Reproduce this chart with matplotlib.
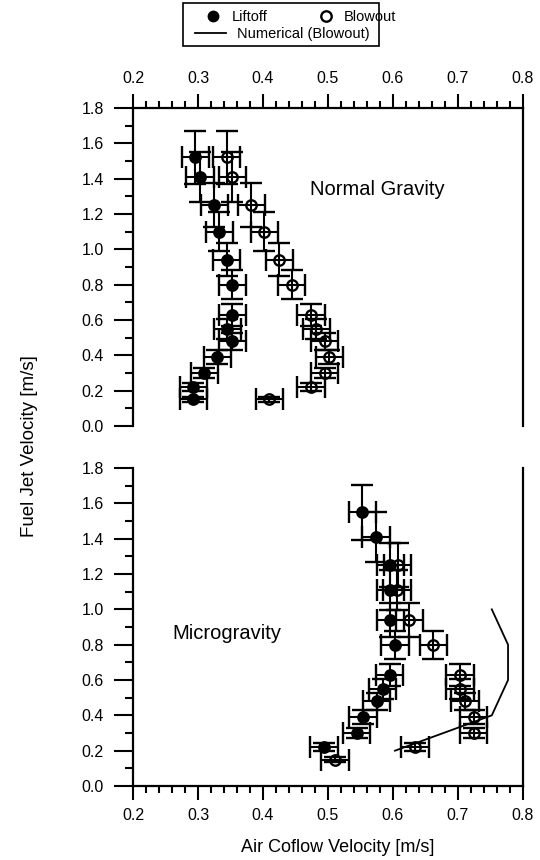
import matplotlib
matplotlib.use('Agg')
import matplotlib.pyplot as plt
from matplotlib.lines import Line2D
from matplotlib.patches import Rectangle
from matplotlib.ticker import MultipleLocator

plt.rcParams['font.family'] = ['Liberation Sans', 'DejaVu Sans']


# Data
# Normal gravity: fuel jet velocity [m/s] vs air coflow velocity [m/s]
ng_lift_v = [1.52, 1.41, 1.25, 1.10, 0.94, 0.80, 0.63, 0.55, 0.48, 0.39, 0.30, 0.22, 0.15]
ng_lift_u = [0.296, 0.303, 0.325, 0.333, 0.344, 0.353, 0.353, 0.345, 0.353, 0.330, 0.310, 0.293, 0.293]
ng_blow_v = [1.52, 1.41, 1.25, 1.10, 0.94, 0.80, 0.63, 0.55, 0.48, 0.39, 0.30, 0.22, 0.15]
ng_blow_u = [0.344, 0.353, 0.382, 0.402, 0.425, 0.444, 0.474, 0.482, 0.495, 0.502, 0.495, 0.474, 0.410]

# Microgravity
mg_lift_v = [1.55, 1.41, 1.25, 1.11, 0.94, 0.80, 0.63, 0.55, 0.48, 0.39, 0.30, 0.22]
mg_lift_u = [0.553, 0.574, 0.596, 0.596, 0.596, 0.603, 0.595, 0.584, 0.575, 0.554, 0.544, 0.494]
mg_blow_v = [1.25, 1.11, 0.94, 0.80, 0.63, 0.55, 0.48, 0.39, 0.30, 0.22, 0.15]
mg_blow_u = [0.607, 0.606, 0.625, 0.662, 0.703, 0.703, 0.711, 0.724, 0.724, 0.634, 0.511]

# Numerical blowout curve (microgravity)
num_u = [0.603, 0.752, 0.777, 0.777, 0.752]
num_v = [0.20, 0.40, 0.60, 0.80, 1.00]

# Error bars: constant on coflow, 10 % on jet velocity
u_err = 0.021
v_rel_err = 0.10


# Plotting
fig = plt.figure(figsize=(5.4, 8.6), dpi=100)
ax_top = fig.add_axes([0.2463, 0.5047, 0.7222, 0.3698])
ax_bot = fig.add_axes([0.2463, 0.0860, 0.7222, 0.3698])

bar_style = dict(ecolor='black', elinewidth=1.5, capsize=8, capthick=1.5,
                 linestyle='none', markersize=7.5)


def draw_points(ax, u, v, filled):
    ax.errorbar(u, v, xerr=u_err, yerr=[v_rel_err * val for val in v],
                marker='o', color='black',
                markerfacecolor='black' if filled else 'none',
                markeredgewidth=1.7, **bar_style)


for ax in (ax_top, ax_bot):
    ax.set_xlim(0.2, 0.8)
    ax.set_ylim(0.0, 1.8)
    ax.xaxis.set_major_locator(MultipleLocator(0.1))
    ax.xaxis.set_minor_locator(MultipleLocator(0.02))
    ax.yaxis.set_major_locator(MultipleLocator(0.2))
    ax.yaxis.set_minor_locator(MultipleLocator(0.1))
    ax.xaxis.set_major_formatter('{x:.1f}')
    ax.yaxis.set_major_formatter('{x:.1f}')
    ax.tick_params(axis='x', which='major', direction='out', length=10, width=1.5,
                   labelsize=11.5, pad=6)
    ax.tick_params(axis='x', which='minor', direction='out', length=5, width=1.5)
    ax.tick_params(axis='y', which='major', direction='out', length=14, width=1.5,
                   labelsize=11.5, pad=7)
    ax.tick_params(axis='y', which='minor', direction='out', length=6, width=1.5)
    for side in ax.spines.values():
        side.set_linewidth(1.6)

# Top panel: axis on top, no bottom spine
ax_top.spines['bottom'].set_visible(False)
ax_top.xaxis.tick_top()
ax_top.xaxis.set_label_position('top')
draw_points(ax_top, ng_lift_u, ng_lift_v, True)
draw_points(ax_top, ng_blow_u, ng_blow_v, False)
ax_top.text(0.473, 1.336, 'Normal Gravity', fontsize=14.5, va='center', ha='left')

# Bottom panel: no top spine
ax_bot.spines['top'].set_visible(False)
draw_points(ax_bot, mg_lift_u, mg_lift_v, True)
draw_points(ax_bot, mg_blow_u, mg_blow_v, False)
ax_bot.plot(num_u, num_v, color='black', linewidth=1.3)
ax_bot.text(0.261, 0.864, 'Microgravity', fontsize=14.5, va='center', ha='left')

# Axis titles
fig.text(0.625, 0.014, 'Air Coflow Velocity [m/s]', fontsize=13, ha='center', va='center')
fig.text(30 / 540, 1 - 446 / 860, 'Fuel Jet Velocity [m/s]', fontsize=13.5,
         ha='center', va='center', rotation=90)

# Legend
h_lift = Line2D([], [], marker='o', color='black', linestyle='none', markersize=7.5)
h_blow = Line2D([], [], marker='o', color='black', linestyle='none', markersize=7.5,
                markerfacecolor='none', markeredgewidth=1.7)
h_num = Line2D([], [], color='black', linewidth=1.3)

leg1 = fig.legend(handles=[h_lift, h_blow], labels=['Liftoff', 'Blowout'], ncol=2,
                  loc='center left', bbox_to_anchor=(203 / 540, 1 - 17 / 860),
                  frameon=False, fontsize=10.5, borderpad=0, borderaxespad=0,
                  handlelength=1.4, handletextpad=0.55, columnspacing=3.3)
leg2 = fig.legend(handles=[h_num], labels=['Numerical (Blowout)'],
                  loc='center left', bbox_to_anchor=(195 / 540, 1 - 34 / 860),
                  frameon=False, fontsize=10.5, borderpad=0, borderaxespad=0,
                  handlelength=2.1, handletextpad=0.8)
fig.patches.append(Rectangle((183 / 540, 1 - 46 / 860), 196 / 540, 43 / 860,
                             transform=fig.transFigure, fill=False,
                             edgecolor='black', linewidth=1.2))

fig.savefig('out.png', dpi=100)
